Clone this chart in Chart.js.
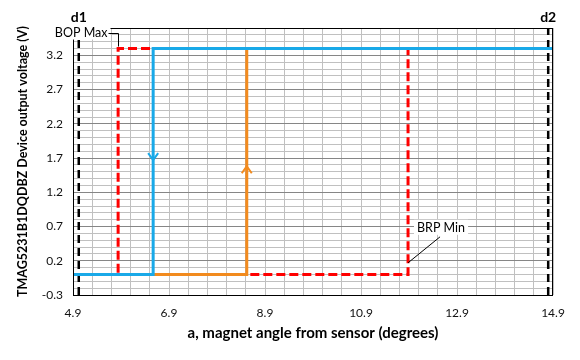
<!DOCTYPE html>
<html>
<head>
<meta charset="utf-8">
<script src="https://cdn.jsdelivr.net/npm/chart.js@4.4.0/dist/chart.umd.min.js"></script>
<style>
  html, body { margin: 0; padding: 0; background: #ffffff; }
  #wrap { width: 580px; height: 360px; position: relative; }
</style>
</head>
<body>
<div id="wrap"><canvas id="c" width="580" height="360"></canvas></div>
<script>
// ---- data ----
const xTickLabels = ['4.9', '6.9', '8.9', '10.9', '12.9', '14.9'];
const yTickLabels = ['-0.3', '0.2', '0.7', '1.2', '1.7', '2.2', '2.7', '3.2'];

const blueX = [14.9, 6.57, 6.57, 4.9];
const blueY = [3.3, 3.3, 0.0, 0.0];

const orangeX = [6.57, 8.52, 8.52];
const orangeY = [0.0, 0.0, 3.3];

const redX = [14.9, 5.84, 5.84, 11.88, 11.88];
const redY = [3.3, 3.3, 0.0, 0.0, 3.3];

const d1X = [5.02, 5.02];
const d1Y = [-0.3, 3.6];
const d2X = [14.8, 14.8];
const d2Y = [-0.3, 3.6];

const markerNames = ['d1', 'd2'];
const markerX = [5.02, 14.8];

const arrowX = [6.57, 8.52];
const arrowY = [1.67, 1.58];
const arrowDir = ['down', 'up'];

const noteText = ['BOP Max', 'BRP Min'];
const noteX = [5.84, 11.88];
const noteY = [3.3, 0.17];

const BLUE = '#19A9E8';
const ORANGE = '#F28B1E';
const RED = '#FF0000';
const FONT = 'Lato, "Open Sans", sans-serif';

function pts(xs, ys) { return xs.map((x, i) => ({ x: x, y: ys[i] })); }

const overlay = {
  id: 'overlay',
  afterDatasetsDraw(chart) {
    const ctx = chart.ctx;
    const xs = chart.scales.x, ys = chart.scales.y;
    const a = chart.chartArea;
    // arrows
    ctx.save();
    ctx.lineWidth = 2;
    ctx.lineCap = 'butt';
    ctx.lineJoin = 'miter';
    for (let i = 0; i < arrowX.length; i++) {
      const px = xs.getPixelForValue(arrowX[i]);
      const py = ys.getPixelForValue(arrowY[i]);
      const s = arrowDir[i] === 'down' ? -1 : 1;
      ctx.strokeStyle = i === 0 ? BLUE : ORANGE;
      ctx.beginPath();
      ctx.moveTo(px - 5, py + s * 7);
      ctx.lineTo(px, py);
      ctx.lineTo(px + 5, py + s * 7);
      ctx.stroke();
    }
    ctx.restore();
    // plot border
    ctx.save();
    ctx.strokeStyle = '#000000';
    ctx.lineWidth = 1;
    ctx.strokeRect(a.left + 0.5, a.top + 0.5, a.right - a.left - 1, a.bottom - a.top);
    ctx.restore();
  },
  afterDraw(chart) {
    const ctx = chart.ctx;
    const xs = chart.scales.x, ys = chart.scales.y;
    const a = chart.chartArea;
    ctx.save();
    // d labels
    ctx.fillStyle = '#000000';
    ctx.font = 'bold 14px ' + FONT;
    ctx.textAlign = 'center';
    ctx.textBaseline = 'middle';
    for (let i = 0; i < markerNames.length; i++) {
      ctx.fillText(markerNames[i], xs.getPixelForValue(markerX[i]), a.top - 11);
    }
    // annotations
    ctx.font = '12.5px ' + FONT;
    ctx.lineWidth = 1;
    ctx.strokeStyle = '#000000';
    // BOP Max (elbow connector)
    {
      const tx = Math.round(xs.getPixelForValue(noteX[0])) + 0.5;
      const ty = ys.getPixelForValue(noteY[0]);
      const w = ctx.measureText(noteText[0]).width;
      const right = tx - 11;
      const cy = ty - 16;
      ctx.fillStyle = '#ffffff';
      ctx.fillRect(right - w - 3, cy - 8, w + 6, 15);
      ctx.fillStyle = '#000000';
      ctx.textAlign = 'right';
      ctx.fillText(noteText[0], right, cy);
      ctx.beginPath();
      ctx.moveTo(right + 1, Math.round(cy) + 0.5);
      ctx.lineTo(tx, Math.round(cy) + 0.5);
      ctx.lineTo(tx, ty - 2);
      ctx.stroke();
    }
    // BRP Min (straight leader)
    {
      const tx = xs.getPixelForValue(noteX[1]);
      const ty = ys.getPixelForValue(noteY[1]);
      const w = ctx.measureText(noteText[1]).width;
      const cx = tx + 33, cy = ty - 35;
      ctx.fillStyle = '#ffffff';
      ctx.fillRect(cx - w / 2 - 3, cy - 8, w + 6, 15);
      ctx.fillStyle = '#000000';
      ctx.textAlign = 'center';
      ctx.fillText(noteText[1], cx, cy);
      ctx.beginPath();
      ctx.moveTo(tx + 32, ty - 26);
      ctx.lineTo(tx, ty);
      ctx.stroke();
    }
    ctx.restore();
  }
};

function isMajorY(v) { return yTickLabels.indexOf(v.toFixed(1)) >= 0; }

new Chart(document.getElementById('c'), {
  type: 'line',
  data: {
    datasets: [
      { data: pts(blueX, blueY), borderColor: BLUE, borderWidth: 3, order: 0 },
      { data: pts(orangeX, orangeY), borderColor: ORANGE, borderWidth: 3, order: 1 },
      { data: pts(redX, redY), borderColor: RED, borderWidth: 3, borderDash: [9, 4], order: 2 },
      { data: pts(d1X, d1Y), borderColor: '#000000', borderWidth: 2.5, borderDash: [8, 5], order: 3 },
      { data: pts(d2X, d2Y), borderColor: '#000000', borderWidth: 2.5, borderDash: [8, 5], order: 3 }
    ]
  },
  options: {
    responsive: false,
    animation: false,
    events: [],
    layout: { padding: { top: 28, right: 27, left: 0, bottom: 0 } },
    elements: { point: { radius: 0 }, line: { tension: 0, fill: false, borderCapStyle: 'butt', borderJoinStyle: 'miter' } },
    plugins: { legend: { display: false }, tooltip: { enabled: false }, title: { display: false } },
    scales: {
      x: {
        type: 'linear',
        min: 4.9, max: 14.9,
        afterFit(s) { s.height = 65; },
        ticks: {
          stepSize: 0.4,
          autoSkip: false,
          maxRotation: 0,
          padding: 11,
          color: '#111111',
          font: { family: FONT, size: 12 },
          callback(v) { const t = Number(v).toFixed(1); return xTickLabels.indexOf(t) >= 0 ? t : ''; }
        },
        grid: { color: '#C0C0C0', lineWidth: 1, drawTicks: false },
        border: { display: false },
        title: {
          display: true,
          text: 'a, magnet angle from sensor (degrees)',
          color: '#000000',
          font: { family: FONT, size: 15, weight: 'bold' },
          padding: { top: 0, bottom: 18 }
        }
      },
      y: {
        type: 'linear',
        min: -0.3, max: 3.6,
        afterFit(s) { s.width = 73; },
        ticks: {
          stepSize: 0.1,
          autoSkip: false,
          padding: 10,
          color: '#111111',
          font: { family: FONT, size: 12 },
          callback(v) { const t = Number(v).toFixed(1); return yTickLabels.indexOf(t) >= 0 ? t : ''; }
        },
        grid: {
          drawTicks: false,
          lineWidth: 1,
          color(c) { return (c.tick && isMajorY(c.tick.value)) ? '#868686' : '#C0C0C0'; }
        },
        border: { display: false },
        title: {
          display: true,
          text: 'TMAG5231B1DQDBZ Device output voltage (V)',
          color: '#000000',
          font: { family: FONT, size: 12.5, weight: 'bold' },
          padding: { top: 15, bottom: 0 }
        }
      }
    }
  },
  plugins: [overlay]
});
</script>
</body>
</html>
